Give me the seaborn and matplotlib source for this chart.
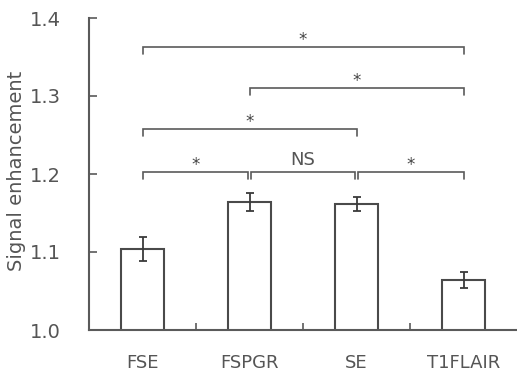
import matplotlib
matplotlib.use("Agg")
import matplotlib.pyplot as plt
import numpy as np
import pandas as pd
import seaborn as sns

# Data
categories = ["FSE", "FSPGR", "SE", "T1FLAIR"]
means = [1.104, 1.164, 1.162, 1.064]
errors = [0.015, 0.012, 0.009, 0.010]

# Significance brackets: (left bar, right bar, height, label)
bracket_left = [0, 1, 0, 0, 1, 2]
bracket_right = [3, 3, 2, 1, 2, 3]
bracket_height = [1.363, 1.310, 1.258, 1.203, 1.203, 1.203]
bracket_label = ["*", "*", "*", "*", "NS", "*"]

line_color = "#5a5a5a"
text_color = "#555555"

sns.set_style("ticks")
plt.rcParams["font.family"] = ["DejaVu Sans"]

data = pd.DataFrame({"sequence": categories, "enhancement": means})

fig = plt.figure(figsize=(5.17, 3.72), dpi=100)
ax = fig.add_axes([89 / 517, 42 / 372, 1 - 89 / 517, 312 / 372])

sns.barplot(data=data, x="sequence", y="enhancement", color="white",
            edgecolor="#4a4a4a", linewidth=1.5, width=0.4, errorbar=None,
            ax=ax)
ax.errorbar(np.arange(len(categories)), means, yerr=errors, fmt="none",
            ecolor="#3a3a3a", elinewidth=1.3, capsize=3, capthick=1.3)

# brackets
leg = 0.009
for l, r, h, lab in zip(bracket_left, bracket_right, bracket_height,
                        bracket_label):
    # inset a little where two brackets share a bar on the same row
    shared = bracket_height.count(h) > 1
    x0 = l + (0.015 if shared and l > 0 else 0)
    x1 = r - (0.015 if shared and r < 3 else 0)
    ax.plot([x0, x0, x1, x1], [h - leg, h, h, h - leg], color=line_color,
            lw=1.2, solid_joinstyle="miter", clip_on=False)
    if lab == "*":
        ax.text((x0 + x1) / 2, h + 0.009, lab, ha="center", va="center",
                fontsize=12, color="#444444")
    else:
        ax.text((x0 + x1) / 2, h + 0.004, lab, ha="center", va="bottom",
                fontsize=13, color=text_color)

ax.set_xlim(-0.5, 3.5)
ax.set_ylim(1.0, 1.4)
ax.set_yticks([1.0, 1.1, 1.2, 1.3, 1.4])
ax.set_yticklabels(["1.0", "1.1", "1.2", "1.3", "1.4"])
ax.set_xticks(range(len(categories)))
ax.set_xticklabels(categories)
ax.set_xticks([0.5, 1.5, 2.5], minor=True)

ax.tick_params(axis="y", direction="in", length=6, width=1.2,
               color=line_color, labelsize=14, labelcolor=text_color, pad=20)
ax.tick_params(axis="x", which="major", length=0, labelsize=13,
               labelcolor=text_color, pad=17)
ax.tick_params(axis="x", which="minor", direction="in", length=5, width=1.2,
               color=line_color)

ax.set_xlabel("")
ax.set_ylabel("Signal enhancement", fontsize=14, color=text_color)
ax.yaxis.set_label_coords(-0.148, 0.51)

sns.despine(ax=ax)
for side in ["left", "bottom"]:
    ax.spines[side].set_color(line_color)
    ax.spines[side].set_linewidth(1.5)

fig.savefig("out.png", dpi=100)
